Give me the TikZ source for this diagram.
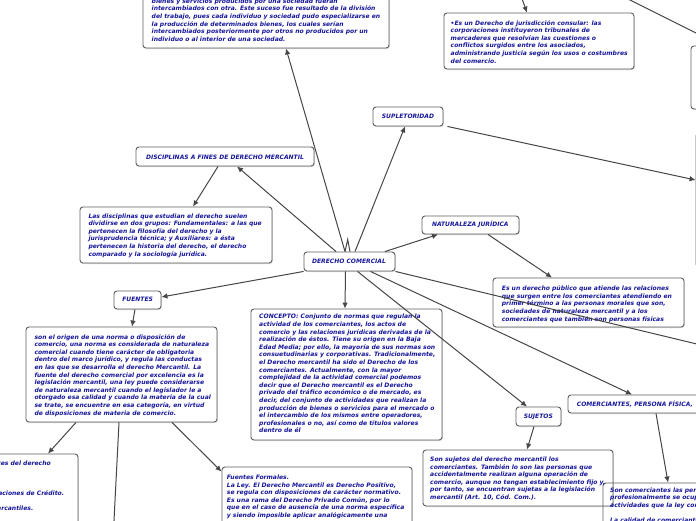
\documentclass[tikz,border=0pt]{standalone}
\usepackage{fontspec}
\setmainfont{DejaVu Sans}[ItalicFont={DejaVu Sans Oblique},BoldFont={DejaVu Sans Bold},BoldItalicFont={DejaVu Sans Bold Oblique}]
\usetikzlibrary{arrows.meta,shadows}
\definecolor{txt}{RGB}{22,22,155}
\definecolor{bord}{RGB}{95,95,95}
\definecolor{conn}{RGB}{70,70,70}
\tikzset{
  box/.style={draw=bord, line width=0.9pt, rounded corners=3pt, fill=white, inner sep=0pt,
    drop shadow={shadow xshift=0.8pt,shadow yshift=-1pt,fill=black!30}},
  boxns/.style={draw=bord, line width=0.9pt, rounded corners=3pt, inner sep=0pt},
  body/.style={inner sep=0pt, anchor=north west, align=left, text=txt,
    font=\fontsize{6.05}{7.6}\selectfont\bfseries\itshape},
  frag/.style={inner sep=0pt, text=txt, font=\fontsize{6.05}{7.6}\selectfont\bfseries\itshape},
  ttl/.style={inner sep=0pt, text=txt, font=\fontsize{6.0}{7.6}\selectfont\bfseries\itshape},
  arr/.style={draw=conn, line width=1pt, -{Latex[length=6pt,width=5.5pt]}},
  ln/.style={draw=conn, line width=1pt}
}
\begin{document}
\begin{tikzpicture}[x=1pt,y=-1pt]
\useasboundingbox (0,0) rectangle (696,520);
\fill[white] (0,0) rectangle (696,520);
% boxes
\node[box, minimum width=246pt, minimum height=108pt] (tb) at (266,-6) {};
\node[box, minimum width=190pt, minimum height=56pt] (tr) at (539,41) {};
\node[box, minimum width=69pt, minimum height=63pt] (rb1) at (725.5,77.5) {};
\node[box, minimum width=104pt, minimum height=134pt] (rb2) at (748,200) {};
\node[box, minimum width=70pt, minimum height=19pt] (sup) at (408,116.5) {};
\node[box, minimum width=97pt, minimum height=18pt] (nat) at (470.5,225) {};
\node[box, minimum width=91pt, minimum height=19pt] (dc) at (349.5,261.5) {};
\node[box, minimum width=178pt, minimum height=19pt] (disc) at (225,156.5) {};
\node[box, minimum width=192pt, minimum height=56pt] (discT) at (176,235) {};
\node[box, minimum width=191pt, minimum height=49pt] (pub) at (588.5,302.5) {};
\node[box, minimum width=47pt, minimum height=18pt] (fue) at (137.5,300) {};
\node[box, minimum width=191pt, minimum height=95pt] (fueT) at (121.5,374.5) {};
\node[box, minimum width=191pt, minimum height=131pt] (con) at (346.5,374.5) {};
\node[box, minimum width=45pt, minimum height=19pt] (suj) at (538.5,416.5) {};
\node[box, minimum width=190pt, minimum height=56pt] (sujT) at (518,478) {};
\node[box, minimum width=192pt, minimum height=18pt] (com) at (664,404) {};
\node[boxns, minimum width=197pt, minimum height=77pt] (comT) at (701.5,521.5) {};
\node[box, minimum width=198pt, minimum height=106pt] (lb) at (-21,507) {};
\node[box, minimum width=190pt, minimum height=93pt] (ff) at (317,513.5) {};
% titles
\node[ttl] (tsup) at (408,116.5) {SUPLETORIDAD};
\node[ttl] (tnat) at (470.3,224.5) {NATURALEZA JURÍDICA};
\node[ttl] (tdc) at (349,261.5) {DERECHO COMERCIAL};
\node[ttl] (tdisc) at (225,157) {DISCIPLINAS A FINES DE DERECHO MERCANTIL};
\node[ttl] (tfue) at (137.7,299.8) {FUENTES};
\node[ttl] (tsuj) at (538.3,416.7) {SUJETOS};
\node[ttl, anchor=west] (tcom) at (576.7,403.8) {COMERCIANTES, PERSONA FÍSICA,};
% body texts
\node[body] (xtb) at (151.5,-1.5) {bienes y servicios producidos por una sociedad fueran\\
intercambiados con otra. Este suceso fue resultado de la división\\
del trabajo, pues cada individuo y sociedad pudo especializarse en\\
la producción de determinados bienes, los cuales serían\\
intercambiados posteriormente por otros no producidos por un\\
individuo o al interior de una sociedad.};
\node[body] (xtr) at (450.5,20) {•Es un Derecho de jurisdicción consular: las\\
corporaciones instituyeron tribunales de\\
mercaderes que resolvían las cuestiones o\\
conflictos surgidos entre los asociados,\\
administrando justicia según los usos o costumbres\\
del comercio.};
\node[body] (xdisc) at (88.3,213.3) {Las disciplinas que estudian el derecho suelen\\
dividirse en dos grupos: Fundamentales: a las que\\
pertenecen la filosofía del derecho y la\\
jurisprudencia técnica; y Auxiliares: a ésta\\
pertenecen la historia del derecho, el derecho\\
comparado y la sociología jurídica.};
\node[body] (xpub) at (501.7,285.6) {Es un derecho público que atiende las relaciones\\
que surgen entre los comerciantes atendiendo en\\
primer término a las personas morales que son,\\
sociedades de naturaleza mercantil y a los\\
comerciantes que también son personas físicas};
\node[body] (xfue) at (34.3,334) {son el origen de una norma o disposición de\\
comercio, una norma es considerada de naturaleza\\
comercial cuando tiene carácter de obligatoria\\
dentro del marco jurídico, y regula las conductas\\
en las que se desarrolla el derecho Mercantil. La\\
fuente del derecho comercial por excelencia es la\\
legislación mercantil, una ley puede considerarse\\
de naturaleza mercantil cuando el legislador le a\\
otorgado esa calidad y cuando la materia de la cual\\
se trate, se encuentre en esa categoría, en virtud\\
de disposiciones de materia de comercio.};
\node[body] (xcon) at (259,314) {CONCEPTO: Conjunto de normas que regulan la\\
actividad de los comerciantes, los actos de\\
comercio y las relaciones jurídicas derivadas de la\\
realización de éstos. Tiene su origen en la Baja\\
Edad Media; por ello, la mayoría de sus normas son\\
consuetudinarias y corporativas. Tradicionalmente,\\
el Derecho mercantil ha sido el Derecho de los\\
comerciantes. Actualmente, con la mayor\\
complejidad de la actividad comercial podemos\\
decir que el Derecho mercantil es el Derecho\\
privado del tráfico económico o de mercado, es\\
decir, del conjunto de actividades que realizan la\\
producción de bienes o servicios para el mercado o\\
el intercambio de los mismos entre operadores,\\
profesionales o no, así como de títulos valores\\
dentro de él};
\node[body] (xsuj) at (430,456.6) {Son sujetos del derecho mercantil los\\
comerciantes. También lo son las personas que\\
accidentalmente realizan alguna operación de\\
comercio, aunque no tengan establecimiento fijo y,\\
por tanto, se encuentran sujetas a la legislación\\
mercantil (Art. 10, Cód. Com.).};
\node[body] (xcom) at (610,487.3) {Son comerciantes las personas\\
profesionalmente se ocupan\\
actividades que la ley considera\\
\\
La calidad de comerciante};
\node[body] (xff) at (226.7,474.6) {Fuentes Formales.\\
La Ley. El Derecho Mercantil es Derecho Positivo,\\
se regula con disposiciones de carácter normativo.\\
Es una rama del Derecho Privado Común, por lo\\
que en el caso de ausencia de una norma específica\\
y siendo imposible aplicar analógicamente una};
\node[frag, anchor=east] (xlb1) at (51,463.3) {tes del derecho};
\node[frag, anchor=east] (xlb2) at (64.3,493.3) {raciones de Crédito.};
\node[frag, anchor=east] (xlb3) at (33.5,508.3) {ercantiles.};
% free ends
\coordinate (ctop1) at (519.5,-8);
\coordinate (ctop2) at (614,-8);
\coordinate (cright1) at (716,43);
\coordinate (cright2) at (730,352);
\coordinate (cdown) at (112,560);
% connectors
\draw[arr] ([xshift=-4.5pt]dc.north) -- ([xshift=20pt]tb.south);
\draw[ln] ([xshift=-4.5pt]dc.north) -- ([xshift=-1.8pt,yshift=12pt]dc.north) -- ([xshift=0.5pt]dc.north);
\draw[arr] ([xshift=5.5pt]dc.north) -- ([xshift=-3pt]sup.south);
\draw[arr] ([xshift=-13.5pt]dc.north) -- ([xshift=12pt]disc.south);
\draw[arr] ([xshift=-7pt]disc.south) -- ([xshift=17pt]discT.north);
\draw[arr] ([xshift=35.5pt]dc.north) -- ([xshift=-32.5pt]nat.south);
\draw[arr] ([xshift=17.5pt]nat.south) -- ([xshift=-36.5pt]pub.north);
\draw[arr] ([xshift=4pt]sup.south east) -- ([yshift=20pt]rb2.west);
\draw[arr] (ctop1) -- ([xshift=-12pt]tr.north);
\draw[arr] (ctop2) -- (cright1);
\draw[arr] (dc.south west) -- ([yshift=3pt]fue.east);
\draw[arr] ([xshift=-2.5pt]fue.south) -- ([xshift=10.5pt]fueT.north);
\draw[arr] ([xshift=-45.5pt]fueT.south) -- ([xshift=69pt]lb.north);
\draw[ln] ([xshift=-2.5pt]fueT.south) -- (cdown);
\draw[arr] ([xshift=50.5pt]fueT.south) -- ([yshift=-5pt]ff.north west);
\draw[arr] ([xshift=-4pt]dc.south) -- ([xshift=-1.5pt]con.north);
\draw[arr] ([xshift=8pt]dc.south) -- ([xshift=-11.5pt]suj.north);
\draw[arr] ([xshift=21pt]dc.south) -- ([xshift=-32pt]com.north);
\draw[arr] (dc.south east) -- (cright2);
\draw[arr] ([xshift=-4.5pt]suj.south) -- ([xshift=9pt]sujT.north);
\draw[arr] ([xshift=-8pt]com.south) -- ([xshift=-33.5pt]comT.north);
\end{tikzpicture}
\end{document}
